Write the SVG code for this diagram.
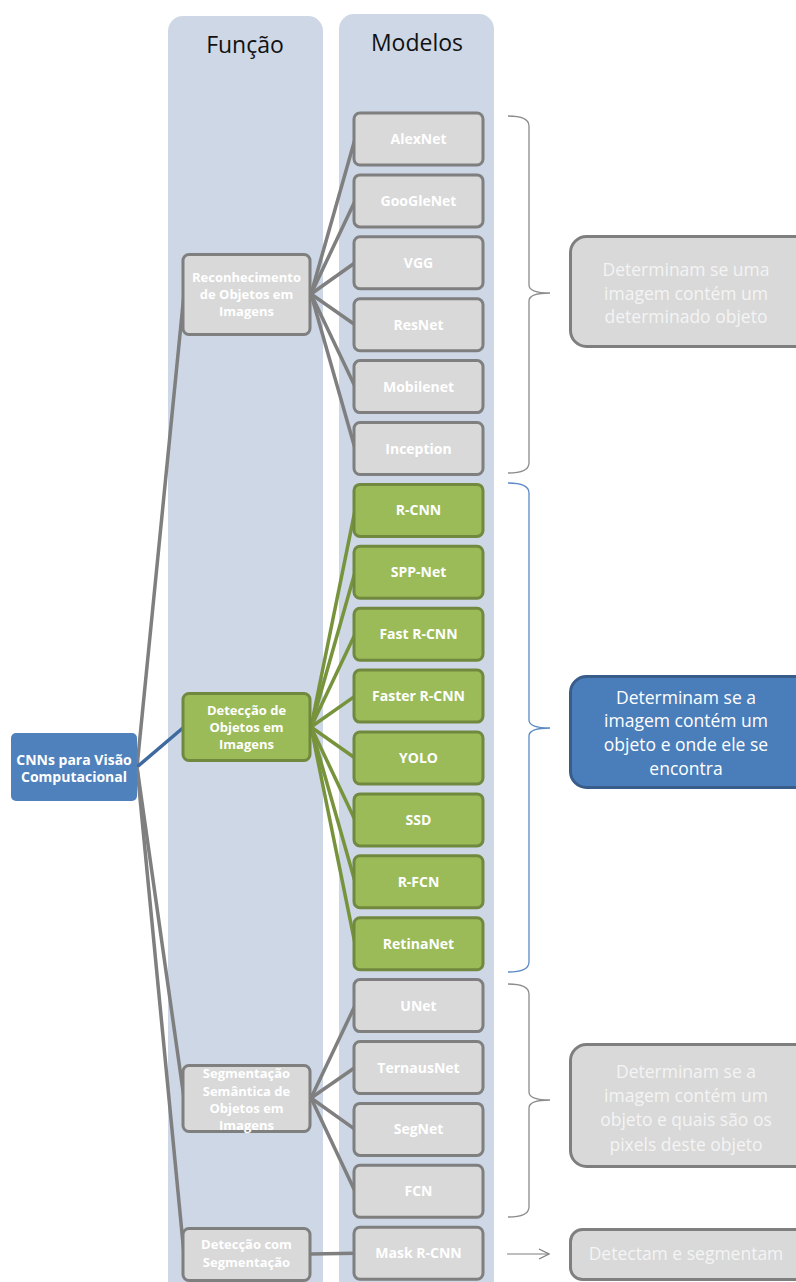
<svg xmlns="http://www.w3.org/2000/svg" width="796" height="1282" viewBox="0 0 796 1282">
<style>
.col{fill:#cdd7e6}
.hdr{font-family:"Open Sans","Liberation Sans",sans-serif;font-size:23px;fill:#111;text-anchor:middle}
.gbox{fill:#d9d9d9;stroke:#7f7f7f;stroke-width:3}
.grbox{fill:#9bbb59;stroke:#71893f;stroke-width:3}
.mt{font-family:"Open Sans","Liberation Sans",sans-serif;font-size:14px;font-weight:bold;fill:#ffffff;text-anchor:middle}
.ft{font-family:"Open Sans","Liberation Sans",sans-serif;font-size:13px;font-weight:bold;fill:#ffffff;text-anchor:middle}
.dt{font-family:"Open Sans","Liberation Sans",sans-serif;font-size:17.5px;fill:#f4f4f4;text-anchor:middle}
.gl{stroke:#7f7f7f;stroke-width:3.5;fill:none}
.grl{stroke:#77933c;stroke-width:3.5;fill:none}
.bl{stroke:#3f6aa0;stroke-width:3.5;fill:none}
.brg{stroke:#8c8c8c;stroke-width:1.3;fill:none}
.brb{stroke:#5b8ac6;stroke-width:1.3;fill:none}
</style>
<defs>
<marker id="arr" viewBox="0 0 12 12" refX="11" refY="6" markerWidth="12" markerHeight="12" markerUnits="userSpaceOnUse" orient="auto">
<path d="M1,1 L11,6 L1,11" fill="none" stroke="#7f7f7f" stroke-width="1.2"/>
</marker>
</defs>
<rect width="796" height="1282" fill="#ffffff"/>
<g id="columns">
<rect class="col" x="168" y="16" width="155" height="1300" rx="15"/>
<rect class="col" x="339" y="14" width="155" height="1300" rx="15"/>
<text class="hdr" x="245" y="53">Função</text>
<text class="hdr" x="417" y="51">Modelos</text>
</g>
<g id="connectors">
<line class="gl" x1="137" y1="767" x2="184" y2="294"/>
<line class="bl" x1="137" y1="767" x2="184" y2="727"/>
<line class="gl" x1="137" y1="767" x2="184" y2="1098"/>
<line class="gl" x1="137" y1="767" x2="184" y2="1254"/>
<line class="gl" x1="311" y1="294" x2="355" y2="139"/>
<line class="gl" x1="311" y1="294" x2="355" y2="200.9"/>
<line class="gl" x1="311" y1="294" x2="355" y2="262.8"/>
<line class="gl" x1="311" y1="294" x2="355" y2="324.7"/>
<line class="gl" x1="311" y1="294" x2="355" y2="386.6"/>
<line class="gl" x1="311" y1="294" x2="355" y2="448.5"/>
<line class="grl" x1="311" y1="727" x2="355" y2="510.4"/>
<line class="grl" x1="311" y1="727" x2="355" y2="572.3"/>
<line class="grl" x1="311" y1="727" x2="355" y2="634.2"/>
<line class="grl" x1="311" y1="727" x2="355" y2="696.1"/>
<line class="grl" x1="311" y1="727" x2="355" y2="758"/>
<line class="grl" x1="311" y1="727" x2="355" y2="819.9"/>
<line class="grl" x1="311" y1="727" x2="355" y2="881.8"/>
<line class="grl" x1="311" y1="727" x2="355" y2="943.7"/>
<line class="gl" x1="311" y1="1098" x2="355" y2="1005.6"/>
<line class="gl" x1="311" y1="1098" x2="355" y2="1067.5"/>
<line class="gl" x1="311" y1="1098" x2="355" y2="1129.4"/>
<line class="gl" x1="311" y1="1098" x2="355" y2="1191.3"/>
<line class="gl" x1="311" y1="1254" x2="355" y2="1253.2"/>
<path class="brg" d="M508,116 Q529,116 529,126 L529,285 Q529,293 550,293 Q529,293 529,301 L529,463 Q529,473 508,473"/>
<path class="brb" d="M508,483 Q529,483 529,493 L529,720 Q529,728 550,728 Q529,728 529,736 L529,962 Q529,972 508,972"/>
<path class="brg" d="M508,984 Q529,984 529,994 L529,1092 Q529,1100 550,1100 Q529,1100 529,1108 L529,1207 Q529,1217 508,1217"/>
<line x1="507" y1="1254" x2="549" y2="1254" stroke="#7f7f7f" stroke-width="1.2" marker-end="url(#arr)"/>
</g>
<g id="root">
<rect x="11" y="733" width="126" height="68" rx="5" fill="#4f81bd"/>
<text class="mt" x="74" y="765" font-size="13.5">CNNs para Visão</text>
<text class="mt" x="74" y="782" font-size="13.5">Computacional</text>
</g>
<g id="f-reconhecimento">
<rect class="gbox" x="183" y="254.5" width="127" height="80" rx="6"/>
<text class="ft" x="246.5" y="281.5">Reconhecimento</text>
<text class="ft" x="246.5" y="298.5">de Objetos em</text>
<text class="ft" x="246.5" y="316">Imagens</text>
</g>
<g id="f-deteccao">
<rect class="grbox" x="183" y="693.5" width="127" height="67" rx="6"/>
<text class="ft" x="246.5" y="714.5">Detecção de</text>
<text class="ft" x="246.5" y="732">Objetos em</text>
<text class="ft" x="246.5" y="749">Imagens</text>
</g>
<g id="f-segmentacao">
<rect class="gbox" x="183" y="1065.5" width="127" height="66" rx="6"/>
<text class="ft" x="246.5" y="1077.5">Segmentação</text>
<text class="ft" x="246.5" y="1095.5">Semântica de</text>
<text class="ft" x="246.5" y="1113">Objetos em</text>
<text class="ft" x="246.5" y="1130">Imagens</text>
</g>
<g id="f-deteccao-seg">
<rect class="gbox" x="183" y="1228.5" width="127" height="52" rx="6"/>
<text class="ft" x="246.5" y="1248.5">Detecção com</text>
<text class="ft" x="246.5" y="1266.5">Segmentação</text>
</g>
<g id="m-alexnet"><rect class="gbox" x="354" y="113" width="129" height="52" rx="6"/><text class="mt" x="418.5" y="144">AlexNet</text></g>
<g id="m-googlenet"><rect class="gbox" x="354" y="174.9" width="129" height="52" rx="6"/><text class="mt" x="418.5" y="205.9">GooGleNet</text></g>
<g id="m-vgg"><rect class="gbox" x="354" y="236.8" width="129" height="52" rx="6"/><text class="mt" x="418.5" y="267.8">VGG</text></g>
<g id="m-resnet"><rect class="gbox" x="354" y="298.7" width="129" height="52" rx="6"/><text class="mt" x="418.5" y="329.7">ResNet</text></g>
<g id="m-mobilenet"><rect class="gbox" x="354" y="360.6" width="129" height="52" rx="6"/><text class="mt" x="418.5" y="391.6">Mobilenet</text></g>
<g id="m-inception"><rect class="gbox" x="354" y="422.5" width="129" height="52" rx="6"/><text class="mt" x="418.5" y="453.5">Inception</text></g>
<g id="m-rcnn"><rect class="grbox" x="354" y="484.4" width="129" height="52" rx="6"/><text class="mt" x="418.5" y="515.4">R-CNN</text></g>
<g id="m-sppnet"><rect class="grbox" x="354" y="546.3" width="129" height="52" rx="6"/><text class="mt" x="418.5" y="577.3">SPP-Net</text></g>
<g id="m-fastrcnn"><rect class="grbox" x="354" y="608.2" width="129" height="52" rx="6"/><text class="mt" x="418.5" y="639.2">Fast R-CNN</text></g>
<g id="m-fasterrcnn"><rect class="grbox" x="354" y="670.1" width="129" height="52" rx="6"/><text class="mt" x="418.5" y="701.1">Faster R-CNN</text></g>
<g id="m-yolo"><rect class="grbox" x="354" y="732" width="129" height="52" rx="6"/><text class="mt" x="418.5" y="763">YOLO</text></g>
<g id="m-ssd"><rect class="grbox" x="354" y="793.9" width="129" height="52" rx="6"/><text class="mt" x="418.5" y="824.9">SSD</text></g>
<g id="m-rfcn"><rect class="grbox" x="354" y="855.8" width="129" height="52" rx="6"/><text class="mt" x="418.5" y="886.8">R-FCN</text></g>
<g id="m-retinanet"><rect class="grbox" x="354" y="917.7" width="129" height="52" rx="6"/><text class="mt" x="418.5" y="948.7">RetinaNet</text></g>
<g id="m-unet"><rect class="gbox" x="354" y="979.6" width="129" height="52" rx="6"/><text class="mt" x="418.5" y="1010.6">UNet</text></g>
<g id="m-ternausnet"><rect class="gbox" x="354" y="1041.5" width="129" height="52" rx="6"/><text class="mt" x="418.5" y="1072.5">TernausNet</text></g>
<g id="m-segnet"><rect class="gbox" x="354" y="1103.4" width="129" height="52" rx="6"/><text class="mt" x="418.5" y="1134.4">SegNet</text></g>
<g id="m-fcn"><rect class="gbox" x="354" y="1165.3" width="129" height="52" rx="6"/><text class="mt" x="418.5" y="1196.3">FCN</text></g>
<g id="m-maskrcnn"><rect class="gbox" x="354" y="1227.2" width="129" height="52" rx="6"/><text class="mt" x="418.5" y="1258.2">Mask R-CNN</text></g>
<g id="d-reconhecimento">
<rect class="gbox" x="570.5" y="236.5" width="240" height="110" rx="16"/>
<text class="dt" x="686" y="276">Determinam se uma</text>
<text class="dt" x="686" y="299.5">imagem contém um</text>
<text class="dt" x="686" y="323">determinado objeto</text>
</g>
<g id="d-deteccao">
<rect x="570.5" y="676.5" width="240" height="111" rx="16" fill="#4a7ebb" stroke="#385d8a" stroke-width="3"/>
<text class="dt" x="686" y="704" fill="#ffffff" style="fill:#ffffff">Determinam se a</text>
<text class="dt" x="686" y="727" style="fill:#ffffff">imagem contém um</text>
<text class="dt" x="686" y="751" style="fill:#ffffff">objeto e onde ele se</text>
<text class="dt" x="686" y="774.5" style="fill:#ffffff">encontra</text>
</g>
<g id="d-segmentacao">
<rect class="gbox" x="570.5" y="1044.5" width="240" height="122" rx="16"/>
<text class="dt" x="686" y="1078">Determinam se a</text>
<text class="dt" x="686" y="1101.5">imagem contém um</text>
<text class="dt" x="686" y="1126">objeto e quais são os</text>
<text class="dt" x="686" y="1150.5">pixels deste objeto</text>
</g>
<g id="d-deteccao-seg">
<rect class="gbox" x="570.5" y="1229.5" width="240" height="50" rx="12"/>
<text class="dt" x="686" y="1260">Detectam e segmentam</text>
</g>
</svg>
